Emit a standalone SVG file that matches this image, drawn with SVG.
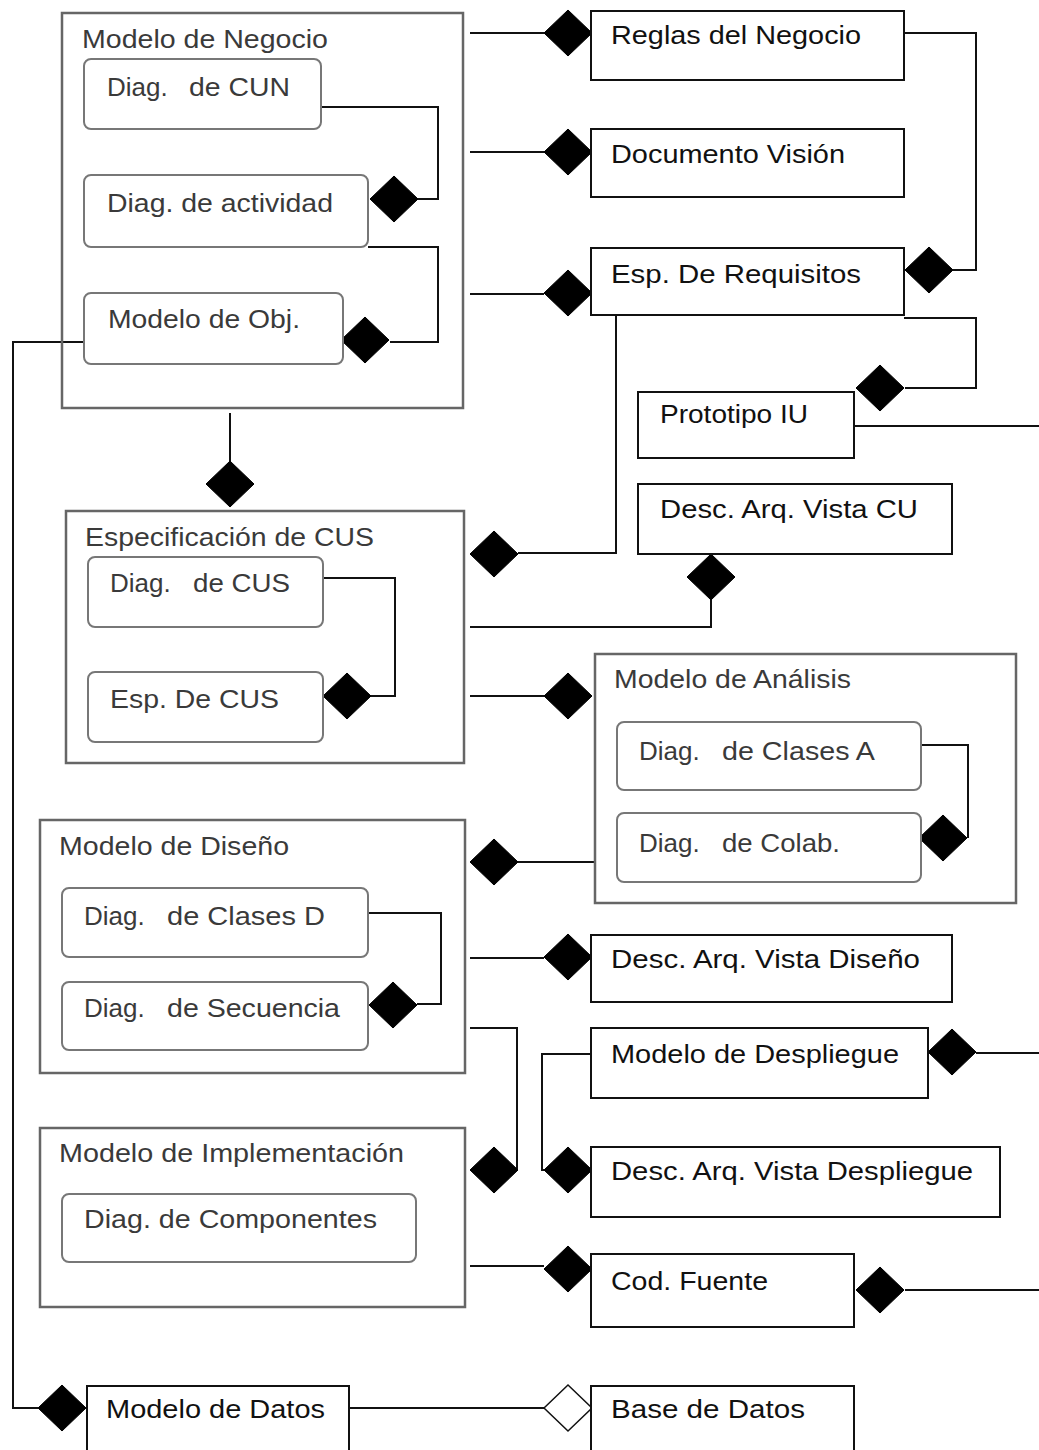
<svg xmlns="http://www.w3.org/2000/svg" width="1039" height="1450" viewBox="0 0 1039 1450">
<style>
.cont{fill:none;stroke:#666;stroke-width:2.5}
.inner{fill:#fff;stroke:#777;stroke-width:2}
.box{fill:#fff;stroke:#111;stroke-width:2}
.conn{fill:none;stroke:#111;stroke-width:2}
.t1{font-family:"Liberation Sans",Arial,sans-serif;font-size:26px;fill:#3a3a3a}
.t2{font-family:"Liberation Sans",Arial,sans-serif;font-size:26px;fill:#111}
.dm{fill:#000;stroke:#000;stroke-width:1}
.dh{fill:#fff;stroke:#111;stroke-width:1.5}
</style>
<defs>
<path id="d" d="M-24,0 L0,-23 L24,0 L0,23 Z"/>
</defs>
<rect width="1039" height="1450" fill="#fff"/>

<g id="connectors">
<path class="conn" d="M470,33 H544"/>
<path class="conn" d="M470,152 H544"/>
<path class="conn" d="M470,294 H544"/>
<path class="conn" d="M904,33 H976 V270 H953"/>
<path class="conn" d="M904,318 H976 V388 H905"/>
<path class="conn" d="M616,315 V553 H518"/>
<path class="conn" d="M854,426 H1039"/>
<path class="conn" d="M321,107 H438 V199 H418"/>
<path class="conn" d="M368,247 H438 V342 H390"/>
<path class="conn" d="M230,413 V462"/>
<path class="conn" d="M84,342 H13 V1408 H38"/>
<path class="conn" d="M323,578 H395 V696 H370"/>
<path class="conn" d="M470,627 H711 V600"/>
<path class="conn" d="M470,696 H544"/>
<path class="conn" d="M921,745 H968 V838"/>
<path class="conn" d="M595,862 H518"/>
<path class="conn" d="M368,913 H441 V1004 H417"/>
<path class="conn" d="M470,958 H544"/>
<path class="conn" d="M470,1028 H517 V1170"/>
<path class="conn" d="M591,1054 H542 V1170 H544"/>
<path class="conn" d="M976,1053 H1039"/>
<path class="conn" d="M470,1266 H544"/>
<path class="conn" d="M905,1290 H1039"/>
<path class="conn" d="M349,1408 H544"/>
<use href="#d" class="dm" x="568" y="33"/>
<use href="#d" class="dm" x="568" y="152"/>
<use href="#d" class="dm" x="568" y="293"/>
<use href="#d" class="dm" x="929" y="270"/>
<use href="#d" class="dm" x="880" y="388"/>
<use href="#d" class="dm" x="394" y="199"/>
<use href="#d" class="dm" x="365" y="340"/>
<use href="#d" class="dm" x="230" y="484"/>
<use href="#d" class="dm" x="494" y="554"/>
<use href="#d" class="dm" x="347" y="696"/>
<use href="#d" class="dm" x="711" y="577"/>
<use href="#d" class="dm" x="568" y="696"/>
<use href="#d" class="dm" x="943" y="838"/>
<use href="#d" class="dm" x="494" y="862"/>
<use href="#d" class="dm" x="393" y="1005"/>
<use href="#d" class="dm" x="568" y="957"/>
<use href="#d" class="dm" x="952" y="1052"/>
<use href="#d" class="dm" x="568" y="1170"/>
<use href="#d" class="dm" x="494" y="1170"/>
<use href="#d" class="dm" x="568" y="1269"/>
<use href="#d" class="dm" x="880" y="1290"/>
<use href="#d" class="dm" x="62" y="1408"/>
<use href="#d" class="dh" x="568" y="1408"/>
</g>

<g id="modelo-negocio">
<rect class="cont" x="62" y="13" width="401" height="395"/>
<text class="t1" x="82" y="48" textLength="246" lengthAdjust="spacingAndGlyphs">Modelo de Negocio</text>
</g>
<g id="diag-cun">
<rect class="inner" x="84" y="59" width="237" height="70" rx="7"/>
<text class="t1" y="96"><tspan x="107">Diag.</tspan><tspan x="189" textLength="101" lengthAdjust="spacingAndGlyphs">de CUN</tspan></text>
</g>
<g id="diag-actividad">
<rect class="inner" x="84" y="175" width="284" height="72" rx="7"/>
<text class="t1" x="107" y="212" textLength="226" lengthAdjust="spacingAndGlyphs">Diag. de actividad</text>
</g>
<g id="modelo-obj">
<rect class="inner" x="84" y="293" width="259" height="71" rx="7"/>
<text class="t1" x="108" y="328" textLength="192" lengthAdjust="spacingAndGlyphs">Modelo de Obj.</text>
</g>

<g id="reglas-negocio">
<rect class="box" x="591" y="11" width="313" height="69"/>
<text class="t2" x="611" y="44" textLength="250" lengthAdjust="spacingAndGlyphs">Reglas del Negocio</text>
</g>
<g id="documento-vision">
<rect class="box" x="591" y="129" width="313" height="68"/>
<text class="t2" x="611" y="163" textLength="234" lengthAdjust="spacingAndGlyphs">Documento Visión</text>
</g>
<g id="esp-requisitos">
<rect class="box" x="591" y="248" width="313" height="67"/>
<text class="t2" x="611" y="283" textLength="250" lengthAdjust="spacingAndGlyphs">Esp. De Requisitos</text>
</g>
<g id="prototipo-iu">
<rect class="box" x="638" y="392" width="216" height="66"/>
<text class="t2" x="660" y="423" textLength="148" lengthAdjust="spacingAndGlyphs">Prototipo IU</text>
</g>
<g id="desc-vista-cu">
<rect class="box" x="638" y="484" width="314" height="70"/>
<text class="t2" x="660" y="518" textLength="258" lengthAdjust="spacingAndGlyphs">Desc. Arq. Vista CU</text>
</g>

<g id="especificacion-cus">
<rect class="cont" x="66" y="511" width="398" height="252"/>
<text class="t1" x="85" y="546" textLength="289" lengthAdjust="spacingAndGlyphs">Especificación de CUS</text>
</g>
<g id="diag-cus">
<rect class="inner" x="88" y="557" width="235" height="70" rx="7"/>
<text class="t1" y="592"><tspan x="110">Diag.</tspan><tspan x="193" textLength="97" lengthAdjust="spacingAndGlyphs">de CUS</tspan></text>
</g>
<g id="esp-cus">
<rect class="inner" x="88" y="672" width="235" height="70" rx="7"/>
<text class="t1" x="110" y="708" textLength="169" lengthAdjust="spacingAndGlyphs">Esp. De CUS</text>
</g>

<g id="modelo-analisis">
<rect class="cont" x="595" y="654" width="421" height="249"/>
<text class="t1" x="614" y="688" textLength="237" lengthAdjust="spacingAndGlyphs">Modelo de Análisis</text>
</g>
<g id="diag-clases-a">
<rect class="inner" x="617" y="722" width="304" height="68" rx="7"/>
<text class="t1" y="760"><tspan x="639">Diag.</tspan><tspan x="722" textLength="153" lengthAdjust="spacingAndGlyphs">de Clases A</tspan></text>
</g>
<g id="diag-colab">
<rect class="inner" x="617" y="813" width="304" height="69" rx="7"/>
<text class="t1" y="852"><tspan x="639">Diag.</tspan><tspan x="722" textLength="118" lengthAdjust="spacingAndGlyphs">de Colab.</tspan></text>
</g>

<g id="modelo-diseno">
<rect class="cont" x="40" y="820" width="425" height="253"/>
<text class="t1" x="59" y="855" textLength="230" lengthAdjust="spacingAndGlyphs">Modelo de Diseño</text>
</g>
<g id="diag-clases-d">
<rect class="inner" x="62" y="888" width="306" height="69" rx="7"/>
<text class="t1" y="925"><tspan x="84">Diag.</tspan><tspan x="167" textLength="158" lengthAdjust="spacingAndGlyphs">de Clases D</tspan></text>
</g>
<g id="diag-secuencia">
<rect class="inner" x="62" y="982" width="306" height="68" rx="7"/>
<text class="t1" y="1017"><tspan x="84">Diag.</tspan><tspan x="167" textLength="173" lengthAdjust="spacingAndGlyphs">de Secuencia</tspan></text>
</g>

<g id="desc-vista-diseno">
<rect class="box" x="591" y="935" width="361" height="67"/>
<text class="t2" x="611" y="968" textLength="309" lengthAdjust="spacingAndGlyphs">Desc. Arq. Vista Diseño</text>
</g>
<g id="modelo-despliegue">
<rect class="box" x="591" y="1028" width="337" height="70"/>
<text class="t2" x="611" y="1063" textLength="288" lengthAdjust="spacingAndGlyphs">Modelo de Despliegue</text>
</g>
<g id="desc-vista-despliegue">
<rect class="box" x="591" y="1147" width="409" height="70"/>
<text class="t2" x="611" y="1180" textLength="362" lengthAdjust="spacingAndGlyphs">Desc. Arq. Vista Despliegue</text>
</g>

<g id="modelo-implementacion">
<rect class="cont" x="40" y="1128" width="425" height="179"/>
<text class="t1" x="59" y="1162" textLength="345" lengthAdjust="spacingAndGlyphs">Modelo de Implementación</text>
</g>
<g id="diag-componentes">
<rect class="inner" x="62" y="1194" width="354" height="68" rx="7"/>
<text class="t1" x="84" y="1228" textLength="293" lengthAdjust="spacingAndGlyphs">Diag. de Componentes</text>
</g>

<g id="cod-fuente">
<rect class="box" x="591" y="1254" width="263" height="73"/>
<text class="t2" x="611" y="1290" textLength="157" lengthAdjust="spacingAndGlyphs">Cod. Fuente</text>
</g>
<g id="modelo-datos">
<rect class="box" x="87" y="1386" width="262" height="80"/>
<text class="t2" x="106" y="1418" textLength="219" lengthAdjust="spacingAndGlyphs">Modelo de Datos</text>
</g>
<g id="base-datos">
<rect class="box" x="591" y="1386" width="263" height="80"/>
<text class="t2" x="611" y="1418" textLength="194" lengthAdjust="spacingAndGlyphs">Base de Datos</text>
</g>
</svg>
